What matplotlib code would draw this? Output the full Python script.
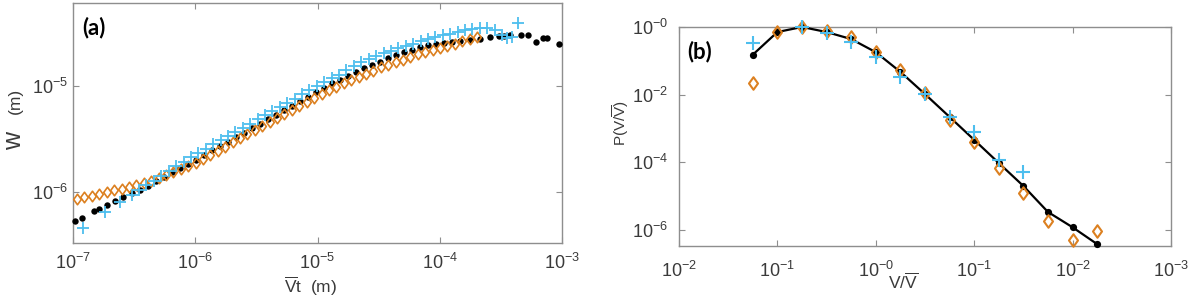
import numpy as np
import matplotlib
matplotlib.use("Agg")
import matplotlib.pyplot as plt
from matplotlib.path import Path
from matplotlib.ticker import NullLocator, FixedLocator, FixedFormatter

# ---------------- Panel (a) data : log10 values ----------------
a_black_logx = [-6.984, -6.926, -6.828, -6.787, -6.722, -6.656, -6.591, -6.517, -6.452,
                -6.387, -6.321, -6.256, -6.190, -6.125, -6.059,
                -5.994, -5.928, -5.863, -5.798, -5.732, -5.667, -5.601, -5.536, -5.470,
                -5.405, -5.339, -5.274, -5.209, -5.143, -5.078, -5.012, -4.947,
                -4.881, -4.816, -4.750, -4.685, -4.620, -4.554, -4.489, -4.423, -4.358,
                -4.292, -4.227, -4.162, -4.096, -4.031, -3.965, -3.900, -3.834,
                -3.753, -3.671, -3.589, -3.515, -3.474, -3.425, -3.335, -3.278, -3.213,
                -3.155, -3.123, -3.025]
a_black_logw = [-6.274, -6.245, -6.179, -6.160, -6.123, -6.085, -6.052, -6.014, -5.981,
                -5.940, -5.898, -5.857, -5.815, -5.774, -5.732,
                -5.694, -5.651, -5.608, -5.566, -5.524, -5.482, -5.440, -5.397, -5.355,
                -5.312, -5.271, -5.228, -5.186, -5.143, -5.101, -5.059, -5.017,
                -4.975, -4.943, -4.906, -4.868, -4.833, -4.802, -4.771, -4.739, -4.708,
                -4.679, -4.656, -4.635, -4.616, -4.599, -4.590, -4.585, -4.580,
                -4.566, -4.552, -4.540, -4.525, -4.525, -4.519, -4.519, -4.519, -4.582,
                -4.550, -4.550, -4.607]

a_orange_logx = [-6.967, -6.906, -6.846, -6.785, -6.725, -6.664, -6.603, -6.543, -6.482, -6.422,
                 -6.361, -6.300, -6.240, -6.179, -6.119, -6.058, -5.997, -5.937, -5.876, -5.816,
                 -5.755, -5.694, -5.634, -5.573, -5.513, -5.452, -5.391, -5.331, -5.270, -5.210,
                 -5.149, -5.088, -5.028, -4.967, -4.907, -4.846, -4.785, -4.725, -4.664, -4.604,
                 -4.543, -4.482, -4.422, -4.361, -4.301, -4.240, -4.179, -4.119, -4.058, -3.998,
                 -3.937, -3.876, -3.816, -3.755, -3.695]
a_orange_logw = [-6.066, -6.050, -6.034, -6.018, -6.002, -5.985, -5.969, -5.953, -5.933, -5.913,
                 -5.892, -5.872, -5.844, -5.814, -5.784, -5.755, -5.724, -5.686, -5.648, -5.609,
                 -5.572, -5.533, -5.494, -5.457, -5.418, -5.379, -5.342, -5.304, -5.265, -5.226,
                 -5.189, -5.149, -5.111, -5.073, -5.036, -5.006, -4.975, -4.946, -4.915, -4.886,
                 -4.856, -4.825, -4.800, -4.775, -4.751, -4.726, -4.702, -4.680, -4.661, -4.642,
                 -4.623, -4.600, -4.580, -4.560, -4.534]

a_blue_logx = [-6.916, -6.738, -6.616, -6.520,
               -6.460, -6.399, -6.339, -6.278, -6.218, -6.157, -6.096, -6.036, -5.975, -5.915,
               -5.854, -5.793, -5.733, -5.672, -5.612, -5.551, -5.490, -5.430, -5.369, -5.309,
               -5.248, -5.187, -5.127, -5.066, -5.006, -4.945, -4.884, -4.824, -4.763, -4.703,
               -4.642, -4.581, -4.521, -4.460, -4.400, -4.339, -4.278, -4.218, -4.157, -4.097,
               -4.036, -3.975, -3.915, -3.854, -3.794, -3.733, -3.672, -3.612, -3.551,
               -3.493, -3.447, -3.411, -3.357]
a_blue_logw = [-6.342, -6.186, -6.092, -6.028,
               -5.980, -5.937, -5.892, -5.848, -5.805, -5.759, -5.716, -5.672, -5.629, -5.590,
               -5.551, -5.511, -5.473, -5.433, -5.394, -5.356, -5.316, -5.277, -5.238, -5.199,
               -5.159, -5.120, -5.079, -5.038, -4.999, -4.959, -4.920, -4.892, -4.849, -4.807,
               -4.774, -4.747, -4.720, -4.693, -4.670, -4.644, -4.621, -4.599, -4.580, -4.561,
               -4.538, -4.522, -4.509, -4.493, -4.472, -4.458, -4.448, -4.451, -4.476,
               -4.519, -4.550, -4.535, -4.408]

a_xticks = [1e-7, 1e-6, 1e-5, 1e-4, 1e-3]
a_xticklabels = [r"$10^{-7}$", r"$10^{-6}$", r"$10^{-5}$", r"$10^{-4}$", r"$10^{-3}$"]
a_yticks = [1e-6, 1e-5]
a_yticklabels = [r"$10^{-6}$", r"$10^{-5}$"]

# ---------------- Panel (b) data ----------------
b_black_x = [0.056, 0.1, 0.178, 0.316, 0.562, 1.0, 1.78, 3.16, 5.62, 10, 17.8, 31.6, 56.2, 100, 178]
b_black_p = [0.15, 0.71, 1.0, 0.71, 0.44, 0.18, 0.047, 0.0104, 0.0022, 4.6e-4, 9.5e-5, 2.0e-5,
             3.4e-6, 1.2e-6, 3.8e-7]
b_blue_x = [0.056, 0.178, 0.316, 0.562, 1.0, 1.78, 3.16, 5.62, 10, 17.8, 31.6]
b_blue_p = [0.34, 1.0, 0.66, 0.36, 0.13, 0.033, 0.0104, 0.0022, 7.9e-4, 1.2e-4, 5.2e-5]
b_orange_x = [0.056, 0.1, 0.178, 0.316, 0.562, 1.0, 1.78, 3.16, 5.62, 10, 17.8, 31.6, 56.2, 100, 178]
b_orange_p = [0.022, 0.71, 1.0, 0.76, 0.5, 0.18, 0.053, 0.011, 0.0018, 4e-4, 6.8e-5, 1.2e-5,
              1.9e-6, 5e-7, 9.3e-7]

b_xticks = [1e-2, 1e-1, 1e0, 1e1, 1e2, 1e3]
b_xticklabels = [r"$10^{-2}$", r"$10^{-1}$", r"$10^{-0}$", r"$10^{-1}$", r"$10^{-2}$", r"$10^{-3}$"]
b_yticks = [1e-6, 1e-4, 1e-2, 1e0]
b_yticklabels = [r"$10^{-6}$", r"$10^{-4}$", r"$10^{-2}$", r"$10^{-0}$"]

# ---------------- style ----------------
plt.rcParams["font.family"] = ["Liberation Sans", "DejaVu Sans"]
plt.rcParams["mathtext.fontset"] = "custom"
plt.rcParams["mathtext.rm"] = "Liberation Sans"
plt.rcParams["mathtext.it"] = "Liberation Sans:italic"
plt.rcParams["mathtext.bf"] = "Liberation Sans:bold"

BLUE = "#4DBEEE"
ORANGE = "#DC8020"
SPINE = "#8e8e8e"
TXT = "#3a3a3a"

diamond = Path([(0, 1), (0.72, 0), (0, -1), (-0.72, 0), (0, 1)],
               [Path.MOVETO, Path.LINETO, Path.LINETO, Path.LINETO, Path.CLOSEPOLY])

W, H = 1196, 305
fig = plt.figure(figsize=(W / 100, H / 100), dpi=100)


def box(l, t, r, b):
    return [l / W, 1 - b / H, (r - l) / W, (b - t) / H]


def style(ax, pad_x, pad_y):
    for s in ax.spines.values():
        s.set_color(SPINE)
        s.set_linewidth(1.0)
    ax.xaxis.set_minor_locator(NullLocator())
    ax.yaxis.set_minor_locator(NullLocator())
    ax.tick_params(which="both", direction="in", top=True, right=True, length=4,
                   width=0.8, color=SPINE, labelcolor=TXT, labelsize=13)
    ax.tick_params(axis="x", pad=pad_x)
    ax.tick_params(axis="y", pad=pad_y)


# ---------------- panel (a) ----------------
ax1 = fig.add_axes(box(73, 3, 562, 243))
ax1.set_xscale("log")
ax1.set_yscale("log")
ax1.plot(10 ** np.array(a_black_logx), 10 ** np.array(a_black_logw), "o", color="black",
         ms=4.6, mec="black", mew=0, clip_on=False, zorder=3)
ax1.plot(10 ** np.array(a_orange_logx), 10 ** np.array(a_orange_logw), ls="none", marker=diamond,
         ms=7.6, mfc="none", mec=ORANGE, mew=1.2, clip_on=False, zorder=4)
ax1.plot(10 ** np.array(a_blue_logx), 10 ** np.array(a_blue_logw), "+", color=BLUE,
         ms=8.5, mew=1.3, clip_on=False, zorder=5)
ax1.set_xlim(1e-7, 1e-3)
ax1.set_ylim(3.30e-7, 6.07e-5)
ax1.xaxis.set_major_locator(FixedLocator(a_xticks))
ax1.xaxis.set_major_formatter(FixedFormatter(a_xticklabels))
ax1.yaxis.set_major_locator(FixedLocator(a_yticks))
ax1.yaxis.set_major_formatter(FixedFormatter(a_yticklabels))
style(ax1, 7, 3.5)
ax1.text(9 / 489, 1 - 25 / 240, "(a)", transform=ax1.transAxes, fontsize=16,
         fontweight="bold", family=["Lato", "DejaVu Sans"], va="center", ha="left")

fig.text(14 / W, 1 - 141 / H, "w", rotation=90, fontsize=18, color=TXT,
         ha="center", va="center")
fig.text(15 / W, 1 - 101 / H, "(m)", rotation=90, fontsize=12.5, color=TXT,
         ha="center", va="center")
fig.text(311 / W, 1 - 286 / H, r"$\overline{\mathrm{V}}$t  (m)", fontsize=12.5, color=TXT,
         ha="center", va="center")

# ---------------- panel (b) ----------------
ax2 = fig.add_axes(box(679, 27, 1171, 246))
ax2.set_xscale("log")
ax2.set_yscale("log")
ax2.plot(b_black_x, b_black_p, "-o", color="black", lw=1.6, ms=5.2, mew=0,
         clip_on=False, zorder=3)
ax2.plot(b_orange_x, b_orange_p, ls="none", marker=diamond, ms=9.0, mfc="none",
         mec=ORANGE, mew=1.5, clip_on=False, zorder=4)
ax2.plot(b_blue_x, b_blue_p, "+", color=BLUE, ms=10.5, mew=1.5, clip_on=False, zorder=5)
ax2.set_xlim(1e-2, 1e3)
ax2.set_ylim(3.36e-7, 1.0)
ax2.xaxis.set_major_locator(FixedLocator(b_xticks))
ax2.xaxis.set_major_formatter(FixedFormatter(b_xticklabels))
ax2.yaxis.set_major_locator(FixedLocator(b_yticks))
ax2.yaxis.set_major_formatter(FixedFormatter(b_yticklabels))
style(ax2, 11, 8)
ax2.text(8 / 492, 1 - 25 / 219, "(b)", transform=ax2.transAxes, fontsize=16,
         fontweight="bold", family=["Lato", "DejaVu Sans"], va="center", ha="left")

fig.text(621 / W, 1 - 123 / H, r"P(V/$\overline{\mathrm{V}}$)", rotation=90, fontsize=11,
         color=TXT, ha="center", va="center")
fig.text(903 / W, 1 - 282 / H, r"V/$\overline{\mathrm{V}}$", fontsize=12.5, color=TXT,
         ha="center", va="center")

fig.savefig("out.png", dpi=100, facecolor="white")
